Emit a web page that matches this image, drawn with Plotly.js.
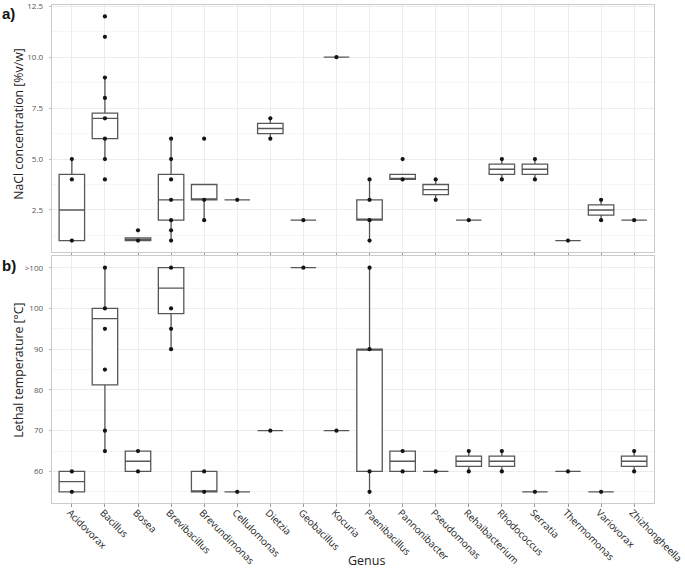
<!DOCTYPE html>
<html>
<head>
<meta charset="utf-8">
<script src="https://cdn.plot.ly/plotly-3.0.1.min.js"></script>
<style>html,body{margin:0;padding:0;background:#fff}#chart{width:685px;height:568px}</style>
</head>
<body>
<div id="chart"></div>
<script>
const genus = ["Acidovorax","Bacillus","Bosea","Brevibacillus","Brevundimonas","Cellulomonas","Dietzia","Geobacillus","Kocuria","Paenibacillus","Pannonibacter","Pseudomonas","Rehaibacterium","Rhodococcus","Serratia","Thermomonas","Variovorax","Zhizhongheella"];

// a) NaCl concentration [%v/w]
const naclQ1     = [1, 6, 1, 2, 3, 3, 6.25, 2, 10, 2, 4, 3.25, 2, 4.25, 4.25, 1, 2.25, 2];
const naclMedian = [2.5, 7, 1, 3, 3, 3, 6.5, 2, 10, 2, 4, 3.5, 2, 4.5, 4.5, 1, 2.5, 2];
const naclQ3     = [4.25, 7.25, 1.125, 4.25, 3.75, 3, 6.75, 2, 10, 3, 4.25, 3.75, 2, 4.75, 4.75, 1, 2.75, 2];
const naclLow    = [1, 5, 1, 1, 2, 3, 6, 2, 10, 1, 4, 3, 2, 4, 4, 1, 2, 2];
const naclHigh   = [5, 9, 1.125, 6, 3.75, 3, 7, 2, 10, 4, 4.25, 4, 2, 5, 5, 1, 3, 2];
const naclPoints = [[1,4,5],[4,5,6,7,8,9,11,12],[1,1.5],[1,1.5,2,3,4,5,6],[2,3,6],[3],[6,7],[2],[10],[1,2,3,4],[4,5],[3,4],[2],[4,5],[4,5],[1],[2,3],[2]];
const naclTicks = [2.5, 5, 7.5, 10, 12.5];
const naclTickText = ["2.5", "5.0", "7.5", "10.0", "12.5"];

// b) Lethal temperature [°C]  (">100" coded as 110)
const tempQ1     = [55, 81.25, 60, 98.75, 55, 55, 70, 110, 70, 60, 60, 60, 61.25, 61.25, 55, 60, 55, 61.25];
const tempMedian = [57.5, 97.5, 62.5, 105, 55, 55, 70, 110, 70, 90, 62.5, 60, 62.5, 62.5, 55, 60, 55, 62.5];
const tempQ3     = [60, 100, 65, 110, 60, 55, 70, 110, 70, 90, 65, 60, 63.75, 63.75, 55, 60, 55, 63.75];
const tempLow    = [55, 65, 60, 90, 55, 55, 70, 110, 70, 55, 60, 60, 60, 60, 55, 60, 55, 60];
const tempHigh   = [60, 110, 65, 110, 60, 55, 70, 110, 70, 110, 65, 60, 65, 65, 55, 60, 55, 65];
const tempPoints = [[55,60],[65,70,85,95,100,110],[60,65],[90,95,100,110],[55,60],[55],[70],[110],[70],[55,60,90,110],[60,65],[60],[60,65],[60,65],[55],[60],[55],[60,65]];
const tempTickVals = [60, 70, 80, 90, 100, 110];
const tempTickText = ["60", "70", "80", "90", "100", ">100"];

function flatten(points) {
  const xs = [], ys = [];
  points.forEach((arr, i) => arr.forEach(v => { xs.push(genus[i]); ys.push(v); }));
  return {xs, ys};
}

const boxStyle = {
  type: 'box', boxpoints: false, width: 0.77, whiskerwidth: 0,
  fillcolor: 'rgba(255,255,255,1)', line: {color: '#575757', width: 1.3},
  hoverinfo: 'skip', showlegend: false
};
const naclPts = flatten(naclPoints);
const tempPts = flatten(tempPoints);

const traces = [
  Object.assign({}, boxStyle, {x: genus, q1: naclQ1, median: naclMedian, q3: naclQ3, lowerfence: naclLow, upperfence: naclHigh, xaxis: 'x', yaxis: 'y'}),
  {type: 'scatter', mode: 'markers', x: naclPts.xs, y: naclPts.ys, xaxis: 'x', yaxis: 'y', marker: {size: 4.2, color: '#151515'}, showlegend: false, hoverinfo: 'skip', cliponaxis: false},
  Object.assign({}, boxStyle, {x: genus, q1: tempQ1, median: tempMedian, q3: tempQ3, lowerfence: tempLow, upperfence: tempHigh, xaxis: 'x2', yaxis: 'y2'}),
  {type: 'scatter', mode: 'markers', x: tempPts.xs, y: tempPts.ys, xaxis: 'x2', yaxis: 'y2', marker: {size: 4.2, color: '#151515'}, showlegend: false, hoverinfo: 'skip', cliponaxis: false}
];

const gridC = '#ececec';
const minorGridC = '#f6f6f6';
const borderC = '#cbcbcb';
const baseX = {
  type: 'category', categoryorder: 'array', categoryarray: genus, range: [-0.6, 17.6],
  showgrid: true, gridcolor: gridC, gridwidth: 1, zeroline: false,
  showline: true, mirror: true, linecolor: borderC, linewidth: 1.3,
  ticks: 'outside', ticklen: 3, tickcolor: '#9a9a9a', tickwidth: 1
};
const baseY = {
  showgrid: true, gridcolor: gridC, gridwidth: 1, zeroline: false,
  showline: true, mirror: true, linecolor: borderC, linewidth: 1.3,
  ticks: 'outside', ticklen: 2, tickcolor: '#bbbbbb',
  ticklabeloverflow: 'allow', ticklabelstandoff: 4,
  tickfont: {family: 'Open Sans, sans-serif', size: 8, color: '#555555'}
};

const layout = {
  width: 685, height: 568,
  margin: {l: 52, r: 31, t: 5, b: 65},
  paper_bgcolor: '#ffffff', plot_bgcolor: '#ffffff',
  showlegend: false,
  xaxis: Object.assign({}, baseX, {anchor: 'y', domain: [0, 1], showticklabels: false}),
  xaxis2: Object.assign({}, baseX, {anchor: 'y2', domain: [0, 1], showticklabels: true, tickangle: 45,
    ticklabelstandoff: -4, ticklabelshift: -2, ticklabeloverflow: 'allow',
    tickfont: {family: 'Open Sans, sans-serif', size: 9.8, color: '#222222'}}),
  yaxis: Object.assign({}, baseY, {anchor: 'x', domain: [0.5045, 1], range: [0.45, 12.56],
    tickmode: 'array', tickvals: naclTicks, ticktext: naclTickText,
    minor: {tickmode: 'linear', tick0: 1.25, dtick: 2.5, showgrid: true, gridcolor: minorGridC, ticks: ''}}),
  yaxis2: Object.assign({}, baseY, {anchor: 'x2', domain: [0, 0.495], range: [52.25, 112.75],
    tickmode: 'array', tickvals: tempTickVals, ticktext: tempTickText,
    minor: {tickmode: 'linear', tick0: 55, dtick: 10, showgrid: true, gridcolor: minorGridC, ticks: ''}}),
  annotations: [
    {text: '<b>a)</b>', xref: 'paper', yref: 'paper', x: -0.086, y: 1.005, xanchor: 'left', yanchor: 'top', showarrow: false,
      font: {family: 'Liberation Sans, Arial, sans-serif', size: 15, color: '#111111'}},
    {text: '<b>b)</b>', xref: 'paper', yref: 'paper', x: -0.086, y: 0.497, xanchor: 'left', yanchor: 'top', showarrow: false,
      font: {family: 'Liberation Sans, Arial, sans-serif', size: 15, color: '#111111'}},
    {text: 'NaCl concentration [%v/w]', xref: 'paper', yref: 'paper', x: -0.056, y: 0.762, xanchor: 'center', yanchor: 'middle', textangle: -90, showarrow: false,
      font: {family: 'Open Sans, sans-serif', size: 12.3, color: '#222222'}},
    {text: 'Lethal temperature [°C]', xref: 'paper', yref: 'paper', x: -0.056, y: 0.266, xanchor: 'center', yanchor: 'middle', textangle: -90, showarrow: false,
      font: {family: 'Open Sans, sans-serif', size: 12.3, color: '#222222'}},
    {text: 'Genus', xref: 'paper', yref: 'paper', x: 0.523, y: -0.115, xanchor: 'center', yanchor: 'middle', showarrow: false,
      font: {family: 'Open Sans, sans-serif', size: 12.5, color: '#222222'}}
  ]
};

Plotly.newPlot('chart', traces, layout, {staticPlot: true, displayModeBar: false});
</script>
</body>
</html>
